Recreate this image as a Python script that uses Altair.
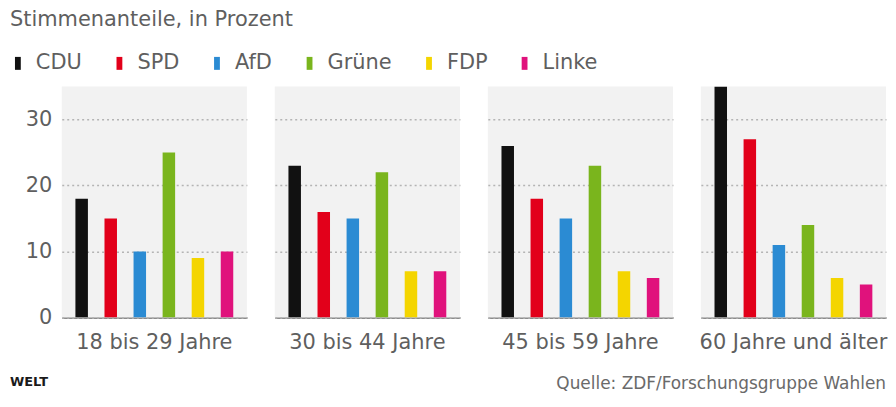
import altair as alt
import pandas as pd

groups = ["18 bis 29 Jahre", "30 bis 44 Jahre", "45 bis 59 Jahre", "60 Jahre und älter"]
parties = ["CDU", "SPD", "AfD", "Grüne", "FDP", "Linke"]
party_colors = ["#111111", "#e2001a", "#2b8bd3", "#7ab51d", "#f4d500", "#e0127c"]

cdu = [18, 23, 26, 35]
spd = [15, 16, 18, 27]
afd = [10, 15, 15, 11]
gruene = [25, 22, 23, 14]
fdp = [9, 7, 7, 6]
linke = [10, 7, 6, 5]

y_ticks = [0, 10, 20, 30]

title_text = "Stimmenanteile, in Prozent"
brand_text = "WELT"
source_text = "Quelle: ZDF/Forschungsgruppe Wahlen"

rows = []
for i, g in enumerate(groups):
    for p, vals in zip(parties, [cdu, spd, afd, gruene, fdp, linke]):
        rows.append({"Gruppe": g, "Partei": p, "Wert": vals[i]})
df = pd.DataFrame(rows)

FONT = "DejaVu Sans"
GRAY = "#5f5f5f"
PANEL_W = 186
PANEL_H = 232
GAP = 28

bars = alt.Chart(df).mark_bar(clip=True).encode(
    x=alt.X(
        "Partei:N",
        sort=parties,
        scale=alt.Scale(paddingInner=0.57, paddingOuter=0.47),
        axis=alt.Axis(labels=False, ticks=False, title=None, domainColor="#8c8c8c",
                      domainWidth=2, grid=False),
    ),
    y=alt.Y(
        "Wert:Q",
        scale=alt.Scale(domain=[0, 35], nice=False),
        axis=alt.Axis(values=y_ticks, title=None, domain=False, ticks=False, labelPadding=10,
                      labelFontSize=21, labelColor=GRAY, labelFont=FONT,
                      gridDash=[2, 3], gridColor="#b4b4b4", gridWidth=1.5),
    ),
    color=alt.Color(
        "Partei:N",
        sort=parties,
        scale=alt.Scale(domain=parties, range=party_colors),
        legend=alt.Legend(
            orient="none", legendX=-51, legendY=-34, direction="horizontal", title=None,
            padding=0, symbolType="M-1,-1H-0.1V1H-1Z", symbolSize=169, symbolStrokeWidth=0,
            symbolOpacity=1, labelFontSize=21, labelFont=FONT, labelColor=GRAY,
            labelOffset=4, columnPadding=30,
        ),
    ),
).properties(width=PANEL_W, height=PANEL_H,
             view=alt.ViewBackground(fill="#f2f2f2", strokeWidth=0))

facet = bars.facet(
    column=alt.Column(
        "Gruppe:N", sort=groups, title=None,
        header=alt.Header(labelOrient="bottom", labelFontSize=21, labelFont=FONT,
                          labelColor=GRAY, labelPadding=15),
    ),
    spacing=GAP,
)

total_w = 4 * PANEL_W + 3 * GAP
footer_df = pd.DataFrame({"brand": [brand_text], "source": [source_text]})
footer_left = alt.Chart(footer_df).mark_text(
    align="left", baseline="middle", font=FONT, fontSize=13, fontWeight="bold", color="#1a1a1a"
).encode(text="brand:N", x=alt.value(-52), y=alt.value(21))
footer_right = alt.Chart(footer_df).mark_text(
    align="right", baseline="middle", font=FONT, fontSize=17, color="#6a6a6a"
).encode(text="source:N", x=alt.value(total_w), y=alt.value(23))
footer = alt.layer(footer_left, footer_right).properties(width=total_w - 20, height=30)

chart = alt.vconcat(facet, footer, spacing=8).properties(
    title=alt.TitleParams(title_text, anchor="start", fontSize=21, font=FONT, color=GRAY,
                          fontWeight="normal", frame="bounds", offset=23),
    padding={"left": 2, "top": 0, "right": 0, "bottom": 0},
).configure_view(strokeWidth=0).configure_concat(spacing=8)

chart.save("out.html", embed_options={"renderer": "svg", "actions": False})
